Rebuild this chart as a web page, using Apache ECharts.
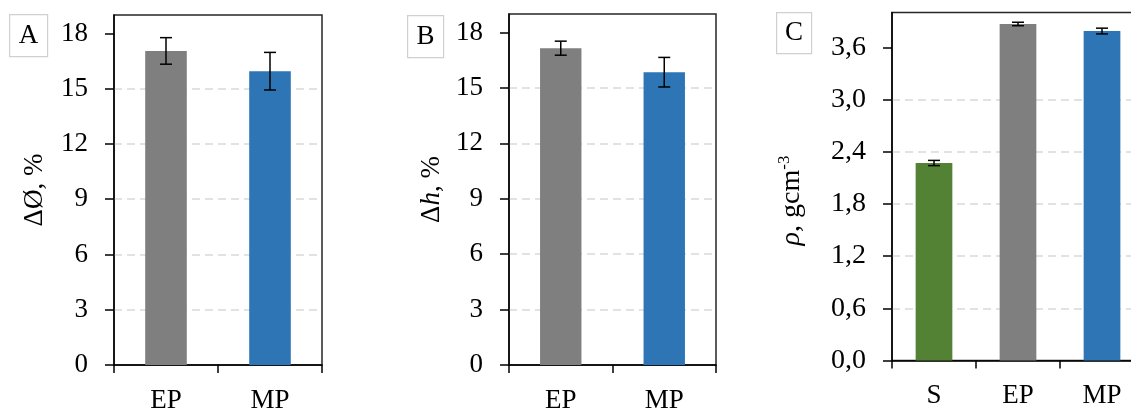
<!DOCTYPE html>
<html><head><meta charset="utf-8">
<script src="https://cdn.jsdelivr.net/npm/echarts@6/dist/echarts.min.js"></script>
<style>html,body{margin:0;padding:0;background:#fff}#c{width:1131px;height:409px}</style>
</head><body><div id="c"></div>
<script>
const catsAB = ['EP', 'MP'];
const catsC = ['S', 'EP', 'MP'];
const diamVals = [17.05, 15.95];
const diamErr = [0.72, 1.02];
const heightVals = [17.15, 15.85];
const heightErr = [0.38, 0.80];
const densVals = [2.27, 3.868, 3.787];
const densErr = [0.03, 0.02, 0.033];
const ticksAB = [0, 3, 6, 9, 12, 15, 18];
const ticksC = [0, 0.6, 1.2, 1.8, 2.4, 3.0, 3.6];
const colorsAB = ['#7F7F7F', '#2E75B6'];
const colorsC = ['#548235', '#7F7F7F', '#2E75B6'];

const FONT = '"Liberation Serif", "DejaVu Serif", serif';
const chart = echarts.init(document.getElementById('c'), null, {renderer: 'canvas'});

function xAx(idx, cats) {
  return {
    type: 'category', gridIndex: idx, data: cats,
    axisLine: {lineStyle: {color: '#000', width: 1.5}},
    axisTick: {show: true, length: 8, inside: false, lineStyle: {color: '#000', width: 1.5}},
    axisLabel: {color: '#000', fontFamily: FONT, fontSize: 27, margin: 22}
  };
}
function yAx(idx, max, interval, name, nameGap, fmt, fs, pad) {
  return {
    type: 'value', gridIndex: idx, min: 0, max: max, interval: interval,
    name: name, nameLocation: 'middle', nameRotate: 90, nameGap: nameGap,
    nameTextStyle: {color: '#000', fontFamily: FONT, fontSize: fs, padding: pad,
      rich: {
        i: {fontFamily: FONT, fontSize: fs, fontStyle: 'italic', color: '#000'},
        n: {fontFamily: FONT, fontSize: fs, color: '#000'},
        s: {fontFamily: FONT, fontSize: 17, color: '#000', verticalAlign: 'top', padding: [0, 0, 14, 0]}
      }},
    axisLine: {show: true, lineStyle: {color: '#000', width: 1.5}},
    axisTick: {show: true, length: 9, inside: false, lineStyle: {color: '#000', width: 1.5},
      customValues: idx === 2 ? ticksC : ticksAB},
    axisLabel: {color: '#000', fontFamily: FONT, fontSize: fs, margin: 26, formatter: fmt,
      customValues: idx === 2 ? ticksC : ticksAB},
    splitLine: {show: true, showMinLine: false, showMaxLine: false,
      lineStyle: {color: '#D9D9D9', width: 1.5, type: [8, 5]}}
  };
}
function bars(idx, vals, colors, width) {
  return {
    type: 'bar', xAxisIndex: idx, yAxisIndex: idx, barWidth: width,
    data: vals.map((v, i) => ({value: v, itemStyle: {color: colors[i]}})),
    z: 2
  };
}
function errs(idx, vals, err) {
  return {
    type: 'custom', xAxisIndex: idx, yAxisIndex: idx, z: 5,
    data: vals.map((v, i) => [i, v, err[i]]),
    renderItem: function (params, api) {
      const c = api.value(0), v = api.value(1), e = api.value(2);
      const hi = api.coord([c, v + e]);
      const lo = api.coord([c, v - e]);
      const x = hi[0], w = 6;
      const st = {stroke: '#000', lineWidth: 1.5};
      return {type: 'group', children: [
        {type: 'line', shape: {x1: x, y1: hi[1], x2: x, y2: lo[1]}, style: st},
        {type: 'line', shape: {x1: x - w, y1: hi[1], x2: x + w, y2: hi[1]}, style: st},
        {type: 'line', shape: {x1: x - w, y1: lo[1], x2: x + w, y2: lo[1]}, style: st}
      ]};
    }
  };
}
function labelBox(x, y, w, h, t) {
  return {
    type: 'group', left: x, top: y, children: [
      {type: 'rect', shape: {x: 0, y: 0, width: w, height: h},
        style: {fill: '#fff', stroke: '#D0D0D0', lineWidth: 1.2}},
      {type: 'text', x: w / 2, y: h / 2,
        style: {text: t, fill: '#000', font: '27px ' + FONT, align: 'center', verticalAlign: 'middle'}}
    ]
  };
}
const gridStyle = {show: true, borderColor: '#262626', borderWidth: 1.5, backgroundColor: 'transparent',
  containLabel: false, outerBoundsMode: 'none'};

chart.setOption({
  animation: false,
  grid: [
    Object.assign({left: 114, top: 15, width: 208, height: 350}, gridStyle),
    Object.assign({left: 509, top: 14, width: 207, height: 351}, gridStyle),
    Object.assign({left: 892, top: 12.5, width: 252, height: 348}, gridStyle)
  ],
  xAxis: [xAx(0, catsAB), xAx(1, catsAB), xAx(2, catsC)],
  yAxis: [
    yAx(0, 19, 3, '{n|ΔØ, %}', 66, v => String(v), 27, 0),
    yAx(1, 19, 3, '{n|Δ}{i|h}{n|, %}', 64, v => String(v), 27, 0),
    yAx(2, 4.0, 0.6, '{i|ρ}{n|, gcm}{s|-3}', 85, v => v.toFixed(1).replace('.', ','), 28, [0, 28, 0, 0])
  ],
  series: [
    bars(0, diamVals, colorsAB, '40%'), errs(0, diamVals, diamErr),
    bars(1, heightVals, colorsAB, '40%'), errs(1, heightVals, heightErr),
    bars(2, densVals, colorsC, '43.7%'), errs(2, densVals, densErr)
  ],
  graphic: [
    labelBox(9, 14, 38, 42, 'A'),
    labelBox(407, 15, 36, 42, 'B'),
    labelBox(776, 12, 35, 41, 'C')
  ]
});
</script></body></html>
